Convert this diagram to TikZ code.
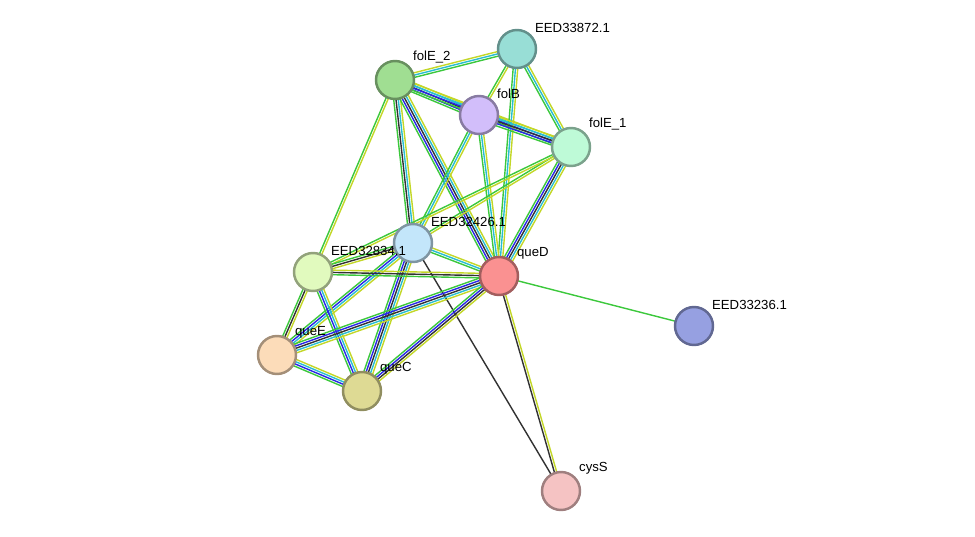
\documentclass[tikz,border=0pt]{standalone}
\usepackage{fontspec}
\setmainfont{Liberation Sans}
\usetikzlibrary{calc,backgrounds}
\definecolor{lg}{RGB}{60,200,60}
\definecolor{lb}{RGB}{40,40,230}
\definecolor{lk}{RGB}{50,50,50}
\definecolor{lc}{RGB}{40,190,210}
\definecolor{ly}{RGB}{195,215,40}
\definecolor{ceedsf}{RGB}{152,222,214}
\definecolor{cfoleb}{RGB}{160,222,146}
\definecolor{cfolb}{RGB}{210,190,250}
\definecolor{cfolea}{RGB}{190,250,215}
\definecolor{ceedtw}{RGB}{195,230,250}
\definecolor{ceedte}{RGB}{225,250,190}
\definecolor{cqued}{RGB}{250,145,145}
\definecolor{ceedts}{RGB}{150,160,225}
\definecolor{cquee}{RGB}{252,220,185}
\definecolor{cquec}{RGB}{222,218,148}
\definecolor{ccyss}{RGB}{245,195,195}
\newcommand{\link}[4]{%
  \foreach \c [count=\i] in {#4} {
    \pgfmathsetmacro\o{(\i-(#3+1)/2)*1.3}
    \draw[\c, line width=0.8pt] ($(#1)!\o pt!90:(#2)$) -- ($(#2)!\o pt!-90:(#1)$);
  }}
\begin{document}
\begin{tikzpicture}[x=0.02cm,y=-0.02cm]
    % Styles
    \tikzset{
        prot/.style={circle, minimum size=0.76cm, line width=1.4pt,
            fill=#1, draw=#1!65!black, inner sep=0pt},
        lbl/.style={font=\fontsize{7.5}{8}\selectfont, anchor=south west,
            inner sep=0pt, xshift=2pt, yshift=1pt}
    }
    \useasboundingbox (0,0) rectangle (975,537);

    % Proteins
    \node[prot=ceedsf, label={[lbl]north east:EED33872.1}] (eed72) at (517,49) {};
    \node[prot=cfoleb, label={[lbl]north east:folE\_2}] (fole2) at (395,80) {};
    \node[prot=cfolb, label={[lbl]north east:folB}] (folb) at (479,115) {};
    \node[prot=cfolea, label={[lbl]north east:folE\_1}] (fole1) at (571,147) {};
    \node[prot=ceedtw, label={[lbl]north east:EED32426.1}] (eed26) at (413,243) {};
    \node[prot=ceedte, label={[lbl]north east:EED32834.1}] (eed34) at (313,272) {};
    \node[prot=cqued, label={[lbl]north east:queD}] (qued) at (499,276) {};
    \node[prot=ceedts, label={[lbl]north east:EED33236.1}] (eed36) at (694,326) {};
    \node[prot=cquee, label={[lbl]north east:queE}] (quee) at (277,355) {};
    \node[prot=cquec, label={[lbl]north east:queC}] (quec) at (362,391) {};
    \node[prot=ccyss, label={[lbl]north east:cysS}] (cyss) at (561,491) {};

    % Interactions
    \begin{scope}[on background layer]
        \link{fole2}{eed72}{3}{lg,lc,ly}
        \link{fole2}{folb}{5}{lg,lb,lk,lc,ly}
        \link{fole2}{fole1}{4}{lg,lb,lc,ly}
        \link{fole2}{eed26}{4}{lg,lk,lc,ly}
        \link{fole2}{qued}{5}{lg,lb,lk,lc,ly}
        \link{fole2}{eed34}{2}{lg,ly}
        \link{eed72}{folb}{2}{lg,ly}
        \link{eed72}{fole1}{3}{lg,lc,ly}
        \link{eed72}{qued}{3}{lg,lc,ly}
        \link{folb}{fole1}{5}{lg,lb,lk,lc,ly}
        \link{folb}{eed26}{3}{lg,lc,ly}
        \link{folb}{qued}{3}{lg,lc,ly}
        \link{fole1}{qued}{5}{lg,lb,lk,lc,ly}
        \link{fole1}{eed26}{2}{lg,ly}
        \link{fole1}{eed34}{2}{lg,ly}
        \link{eed26}{qued}{3}{lg,lc,ly}
        \link{eed26}{eed34}{3}{lg,lk,ly}
        \link{eed26}{quee}{4}{lg,lb,lc,ly}
        \link{eed26}{quec}{5}{lg,lb,lk,lc,ly}
        \link{eed26}{cyss}{1}{lk}
        \link{eed34}{qued}{3}{lg,lk,ly}
        \link{eed34}{quee}{3}{lg,lk,ly}
        \link{eed34}{quec}{4}{lg,lb,lc,ly}
        \link{qued}{quee}{5}{lg,lb,lk,lc,ly}
        \link{qued}{quec}{4}{lg,lb,lk,ly}
        \link{qued}{cyss}{2}{lk,ly}
        \link{qued}{eed36}{1}{lg}
        \link{quee}{quec}{4}{lg,lb,lc,ly}
    \end{scope}
\end{tikzpicture}
\end{document}
